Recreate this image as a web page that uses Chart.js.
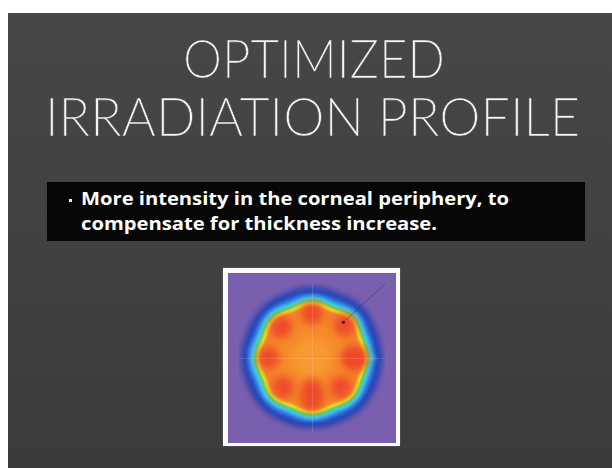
<!DOCTYPE html>
<html>
<head>
<meta charset="utf-8">
<script src="https://cdn.jsdelivr.net/npm/chart.js@4"></script>
<style>
  html, body { margin:0; padding:0; }
  body { width:612px; height:468px; background:#ffffff; position:relative; overflow:hidden; }
  #slide { position:absolute; left:8px; top:13px; width:604px; height:455px;
           background:linear-gradient(#464748, #3a3b3a); }
  .title { position:absolute; left:0; white-space:nowrap; color:#f4f4f4;
           font-family:Lato, "Open Sans", sans-serif; font-weight:300; font-size:53px;
           line-height:53px; transform-origin:0 0; -webkit-text-stroke:0.6px #454647; }
  #box { position:absolute; left:47px; top:182px; width:538px; height:59px; background:#060606; }
  .bl { position:absolute; white-space:nowrap; color:#ffffff; font-family:"Open Sans", sans-serif;
        font-weight:700; font-size:18px; line-height:25px; transform-origin:0 0; }
  #dot { position:absolute; left:69px; top:199px; width:3px; height:3px; background:#e8e8e8; }
  #frame { position:absolute; left:223px; top:268px; width:177px; height:178px; background:#fbfbfb;
           box-shadow:0 0 1px #999; }
  #plot { position:absolute; left:5px; top:5px; width:168px; height:170px; }
</style>
</head>
<body>
<div id="slide"></div>
<div class="title" id="t1">OPTIMIZED</div>
<div class="title" id="t2">IRRADIATION PROFILE</div>
<div id="box"></div>
<div id="dot"></div>
<div class="bl" id="b1">More intensity in the corneal periphery, to</div>
<div class="bl" id="b2">compensate for thickness increase.</div>
<div id="frame"><div id="plot"><canvas id="c"></canvas></div></div>
<script>
// ---- data (profile, radial distance in px-equivalent units) ----
const angleDeg = [0, 22.5, 45, 67.5, 90, 112.5, 135, 157.5, 180, 202.5, 225, 247.5, 270, 292.5, 315, 337.5];
const rHalo      = [83, 82, 84, 82, 83, 82, 83, 82, 83, 82, 83, 82, 82, 82, 83, 82];
const rDarkBlue  = [79, 78, 80, 78, 79, 78, 79, 78, 79, 78, 79, 78, 78, 78, 79, 78];
const rBlue      = [75, 73, 76, 73, 75, 73, 75, 73, 75, 73, 75, 73, 74, 73, 75, 73];
const rLightBlue = [72, 69.5, 73, 69.5, 72, 69.5, 72, 69.5, 72, 69.5, 72, 69.5, 71.5, 69.5, 72, 69.5];
const rCyan      = [69.5, 66.5, 70.5, 66.5, 69.5, 66.5, 69.5, 66.5, 69, 66.5, 69.5, 66.5, 69, 66.5, 69.5, 66.5];
const rGreen     = [67, 64, 68, 64, 67, 64, 67, 64, 66.5, 64, 67, 64, 66.5, 64, 67, 64];
const rYellow    = [64.5, 61.5, 65.5, 61.5, 64.5, 61.5, 64.5, 61.5, 64, 61.5, 64.5, 61.5, 64, 61.5, 64.5, 61.5];
const rOrange    = [61, 58, 62, 58, 61, 58, 61, 58, 60.5, 58, 61, 58, 60.5, 58, 61, 58];
const rInner     = [44, 42, 44, 42, 44, 42, 44, 42, 44, 42, 44, 42, 44, 42, 44, 42];
const rCenter    = [22, 22, 22, 22, 22, 22, 22, 22, 22, 22, 22, 22, 22, 22, 22, 22];
const blobAngle  = [0, 45, 90, 135, 180, 225, 270, 315, 270, 0];
const blobDist   = [46, 53, 51, 50, 50, 47, 48, 47, 37, 51];
const crossX = [-84, 84];
const crossY = [-85, 85];
const markX = [36, 84];
const markY = [41, 85];

// bottom-most level first
const levels = [
  { r: rHalo,      color: '#3f4cb0', soft: 2.5 },
  { r: rDarkBlue,  color: '#2a48b8', soft: 1.6 },
  { r: rBlue,      color: '#2e6fd8', soft: 1.3 },
  { r: rLightBlue, color: '#3aa6ec', soft: 1.1 },
  { r: rCyan,      color: '#45d4ee', soft: 1.0 },
  { r: rGreen,     color: '#5cbf48', soft: 1.0 },
  { r: rYellow,    color: '#efe824', soft: 1.0 },
  { r: rOrange,    color: '#f5862a', soft: 1.2 },
  { r: rInner,     color: '#f68c2c', soft: 3 },
  { r: rCenter,    color: '#f89a30', soft: 4 }
];

function toXY(rArr) {
  const pts = angleDeg.map((a, i) => ({ x: rArr[i] * Math.cos(a * Math.PI / 180), y: rArr[i] * Math.sin(a * Math.PI / 180) }));
  pts.push(pts[0]);
  return pts;
}

const datasets = levels.map((l, i) => ({
  data: toXY(l.r), showLine: true, fill: 'shape', backgroundColor: l.color,
  borderWidth: 0, borderColor: 'rgba(0,0,0,0)', pointRadius: 0, tension: 0.4, soft: l.soft,
  order: levels.length + 1 - i
}));
datasets.push({
  data: blobAngle.map((a, i) => ({ x: blobDist[i] * Math.cos(a * Math.PI / 180), y: blobDist[i] * Math.sin(a * Math.PI / 180) })),
  showLine: false, pointRadius: 11, pointBackgroundColor: '#ee4a2a', backgroundColor: '#ee4a2a',
  pointBorderWidth: 0, borderWidth: 0, soft: 4, order: 0
});

function blurFor(ds) { return ds && ds.soft ? 'blur(' + ds.soft + 'px)' : 'none'; }

const softPlugin = {
  id: 'soft',
  beforeDraw(chart) {
    const { ctx, width, height } = chart;
    ctx.save(); ctx.fillStyle = '#7a5fae'; ctx.fillRect(0, 0, width, height); ctx.restore();
  },
  beforeDatasetsDraw(chart) {
    const metas = chart.getSortedVisibleDatasetMetas();
    chart.$drawSeq = metas.map(m => m.index).reverse(); // actual drawing sequence
    chart.ctx.filter = blurFor(chart.data.datasets[chart.$drawSeq[0]]);
  },
  afterDatasetDraw(chart, args) {
    const seq = chart.$drawSeq || [];
    const k = seq.indexOf(args.index);
    chart.ctx.filter = blurFor(chart.data.datasets[seq[k + 1]]);
  },
  afterDatasetsDraw(chart) {
    const { ctx, scales: { x, y } } = chart;
    ctx.filter = 'none';
    ctx.save();
    ctx.strokeStyle = 'rgba(255,255,255,0.14)'; ctx.lineWidth = 1;
    ctx.beginPath();
    ctx.moveTo(x.getPixelForValue(0) + 0.5, y.getPixelForValue(crossY[0]));
    ctx.lineTo(x.getPixelForValue(0) + 0.5, y.getPixelForValue(crossY[1]));
    ctx.moveTo(x.getPixelForValue(crossX[0]), y.getPixelForValue(0) + 0.5);
    ctx.lineTo(x.getPixelForValue(crossX[1]), y.getPixelForValue(0) + 0.5);
    ctx.stroke();
    ctx.strokeStyle = 'rgba(40,40,110,0.45)';
    ctx.beginPath();
    ctx.moveTo(x.getPixelForValue(markX[0]), y.getPixelForValue(markY[0]));
    ctx.lineTo(x.getPixelForValue(markX[1]), y.getPixelForValue(markY[1]));
    ctx.stroke();
    ctx.fillStyle = '#301010';
    ctx.beginPath();
    ctx.arc(x.getPixelForValue(markX[0]), y.getPixelForValue(markY[0]), 1.5, 0, Math.PI * 2);
    ctx.fill();
    ctx.restore();
  }
};

new Chart(document.getElementById('c'), {
  type: 'scatter',
  data: { datasets },
  options: {
    responsive: true, maintainAspectRatio: false, animation: false,
    layout: { padding: 0 },
    plugins: { legend: { display: false }, tooltip: { enabled: false } },
    scales: {
      x: { type: 'linear', min: -84, max: 84, display: false },
      y: { type: 'linear', min: -85, max: 85, display: false }
    }
  },
  plugins: [softPlugin]
});

function fit(id, left, right, top) {
  const el = document.getElementById(id);
  el.style.transform = 'none';
  const w = el.getBoundingClientRect().width;
  el.style.left = left + 'px';
  el.style.top = top + 'px';
  el.style.transform = 'scaleX(' + ((right - left) / w) + ')';
}
function go() {
  fit('t1', 183, 445, 31);
  fit('t2', 45, 580, 89);
  fit('b1', 81, 509, 186);
  fit('b2', 81, 437, 211);
}
if (document.fonts && document.fonts.ready) document.fonts.ready.then(go); else go();
go();
</script>
</body>
</html>
